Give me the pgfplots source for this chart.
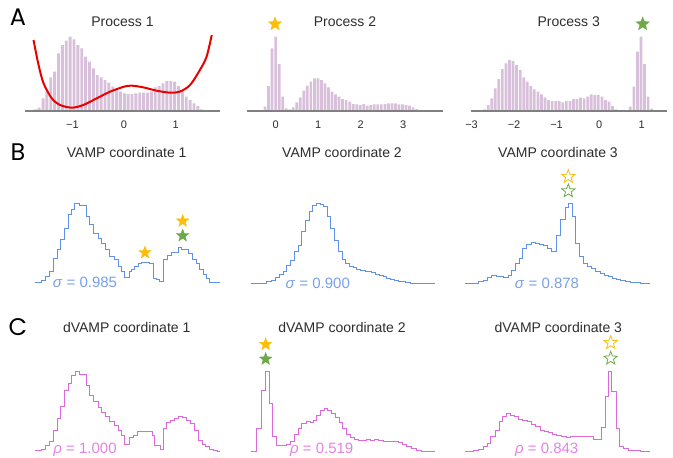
\documentclass[border=0pt]{standalone}
\usepackage{fontspec}
\setmainfont{Liberation Sans}
\newfontfamily\letterfont{Poppins}
\usepackage{pgfplots}
\pgfplotsset{compat=1.18}

\definecolor{barc}{RGB}{216,192,218}
\definecolor{axisgray}{RGB}{128,128,128}
\definecolor{titlec}{RGB}{45,45,45}
\definecolor{gold}{RGB}{252,190,8}
\definecolor{sgreen}{RGB}{108,170,72}
\definecolor{vblue}{RGB}{95,145,235}
\definecolor{vbluet}{RGB}{120,160,235}
\definecolor{dpink}{RGB}{220,105,220}
\definecolor{dpinkt}{RGB}{228,130,228}
\definecolor{pred}{RGB}{235,0,0}

\newcommand\titlefont{\fontsize{14}{16}\selectfont}
\newcommand\annfont{\fontsize{15}{17}\selectfont}

\pgfdeclareplotmark{fstar}{%
  \pgfpathmoveto{\pgfpointpolar{90}{\pgfplotmarksize}}%
  \pgfpathlineto{\pgfpointpolar{126}{0.42\pgfplotmarksize}}%
  \pgfpathlineto{\pgfpointpolar{162}{\pgfplotmarksize}}%
  \pgfpathlineto{\pgfpointpolar{198}{0.42\pgfplotmarksize}}%
  \pgfpathlineto{\pgfpointpolar{234}{\pgfplotmarksize}}%
  \pgfpathlineto{\pgfpointpolar{270}{0.42\pgfplotmarksize}}%
  \pgfpathlineto{\pgfpointpolar{306}{\pgfplotmarksize}}%
  \pgfpathlineto{\pgfpointpolar{342}{0.42\pgfplotmarksize}}%
  \pgfpathlineto{\pgfpointpolar{18}{\pgfplotmarksize}}%
  \pgfpathlineto{\pgfpointpolar{54}{0.42\pgfplotmarksize}}%
  \pgfpathclose
  \pgfusepathqfillstroke
}

\pgfplotsset{
  apanel/.style={scale only axis, anchor=south west, clip=false, axis on top,
    axis x line*=bottom, axis y line=none, ymin=0, ymax=240, height=80pt,
    x axis line style={draw=axisgray, line width=1.5pt},
    major tick length=0pt, ytick=\empty,
    xticklabel style={font=\fontsize{11}{13}\selectfont, text=titlec, anchor=base, yshift=-17pt}},
  hpanel/.style={scale only axis, anchor=south west, clip=false, hide axis,
    ymin=0, ymax=300, height=100pt, xmin=0},
  abar/.style={ybar, bar width=#1, fill=barc, draw=none},
  vline/.style={const plot, vblue, line width=1pt},
  dline/.style={const plot, dpink, line width=1pt},
  fstarg/.style={only marks, mark=fstar, mark size=6.5pt, mark options={fill=gold, draw=gold, line width=0.4pt}},
  fstargr/.style={only marks, mark=fstar, mark size=6.5pt, mark options={fill=sgreen, draw=sgreen, line width=0.4pt}},
  ostarg/.style={only marks, mark=fstar, mark size=7pt, mark options={fill=white, draw=gold, line width=0.8pt}},
  ostargr/.style={only marks, mark=fstar, mark size=7pt, mark options={fill=white, draw=sgreen, line width=0.8pt}},
}

\begin{document}
\begin{tikzpicture}
\useasboundingbox (0pt,0pt) rectangle (673pt,-458pt);

% ---------------- Row A ----------------
\begin{axis}[apanel, at={(25pt,-111pt)}, width=195pt, xmin=-1.92, xmax=1.86,
  xtick={-1,0,1}, xticklabels={−1,0,1}]
\addplot[abar=0.056] coordinates {
(-1.72,5) (-1.645,10) (-1.57,38) (-1.495,58) (-1.42,101) (-1.345,118) (-1.27,173)
(-1.195,198) (-1.12,211) (-1.045,223) (-0.97,215) (-0.895,198) (-0.82,188) (-0.745,163)
(-0.67,148) (-0.595,128) (-0.52,108) (-0.445,101) (-0.37,93) (-0.295,85) (-0.22,73)
(-0.145,63) (-0.07,58) (0.005,53) (0.08,51) (0.155,51) (0.23,53) (0.305,55) (0.38,55)
(0.455,55) (0.53,58) (0.605,71) (0.68,75) (0.755,83) (0.83,90) (0.905,90) (0.98,88)
(1.055,75) (1.13,58) (1.205,43) (1.28,33) (1.355,23) (1.43,15) (1.505,5)};
\addplot[pred, line width=2pt, smooth] coordinates {
(-1.755,213) (-1.66,140) (-1.56,83) (-1.40,38) (-1.24,18) (-1.01,10) (-0.79,18)
(-0.53,38) (-0.27,58) (0,73) (0.15,76) (0.37,71) (0.63,61) (0.89,55) (1.08,58)
(1.28,78) (1.47,123) (1.60,163) (1.70,228)};
\end{axis}

\begin{axis}[apanel, at={(247pt,-111pt)}, width=196pt, xmin=-0.675, xmax=3.94,
  xtick={0,1,2,3}, xticklabels={0,1,2,3}]
\addplot[abar=0.064] coordinates {
(-0.25,13) (-0.167,75) (-0.084,188) (-0.001,223) (0.082,141) (0.165,43) (0.248,8)
(0.331,5) (0.414,11) (0.497,26) (0.58,41) (0.663,61) (0.746,76) (0.829,88) (0.912,98)
(0.995,98) (1.078,93) (1.161,83) (1.244,71) (1.327,58) (1.41,50) (1.493,43) (1.576,36)
(1.659,33) (1.742,28) (1.825,21) (1.908,20) (1.991,18) (2.074,21) (2.157,16) (2.24,18)
(2.323,20) (2.406,20) (2.489,20) (2.572,21) (2.655,23) (2.738,23) (2.821,23) (2.904,20)
(2.987,20) (3.07,18) (3.153,16) (3.236,11) (3.319,6) (3.402,3)};
\addplot[fstarg, mark size=7pt] coordinates {(-0.016,261)};
\end{axis}

\begin{axis}[apanel, at={(470.7pt,-111pt)}, width=196pt, xmin=-3.02, xmax=1.59,
  xtick={-3,-2,-1,0,1}, xticklabels={−3,−2,−1,0,1}]
\addplot[abar=0.064] coordinates {
(-2.693,5) (-2.609,18) (-2.526,38) (-2.442,68) (-2.359,96) (-2.275,126) (-2.191,143)
(-2.108,153) (-2.024,150) (-1.941,138) (-1.857,123) (-1.773,101) (-1.690,88) (-1.606,75)
(-1.523,65) (-1.439,58) (-1.355,50) (-1.272,41) (-1.188,33) (-1.105,30) (-1.021,30)
(-0.937,30) (-0.854,26) (-0.770,30) (-0.687,30) (-0.603,36) (-0.519,36) (-0.436,40)
(-0.352,38) (-0.269,43) (-0.185,50) (-0.101,48) (-0.018,48) (0.066,43) (0.149,33)
(0.233,28) (0.317,15) (0.400,5) (0.484,3) (0.735,13) (0.818,73) (0.902,178)
(0.985,223) (1.069,141) (1.153,43) (1.236,7)};
\addplot[fstargr, mark size=7pt] coordinates {(1.025,261)};
\end{axis}

% ---------------- Row B ----------------
\begin{axis}[hpanel, at={(0pt,-283.3pt)}, width=230pt, xmax=690]
\addplot[vline] coordinates {
(105,3) (125,7) (138,20) (150,35) (160,75) (172,100) (183,130) (193,165) (205,205)
(215,220) (225,240) (238,233) (260,200) (270,175) (282,150) (295,135) (305,120)
(318,100) (330,80) (345,70) (355,50) (365,35) (375,18) (390,35) (395,42) (405,50)
(415,58) (425,63) (450,60) (460,15) (470,10) (480,5) (492,70) (502,82) (515,92)
(535,107) (545,102) (567,90) (578,72) (590,58) (600,40) (610,25) (620,13) (630,2) (660,2)};
\addplot[fstarg] coordinates {(435,92) (548,187)};
\addplot[fstargr] coordinates {(548,143)};
\end{axis}

\begin{axis}[hpanel, at={(230pt,-284pt)}, width=220pt, xmax=660]
\addplot[vline] coordinates {
(62,1) (95,2) (110,7) (125,12) (137,19) (148,29) (160,39) (170,55) (182,72) (193,97)
(205,117) (215,157) (225,192) (237,219) (248,237) (260,242) (270,240) (280,232)
(292,202) (302,167) (312,132) (325,97) (337,75) (347,62) (358,54) (370,49) (380,45)
(392,42) (405,39) (415,37) (425,34) (437,29) (448,25) (460,22) (470,17) (482,14)
(492,11) (505,9) (515,7) (527,5) (540,3) (560,1) (615,1)};
\end{axis}

\begin{axis}[hpanel, at={(450pt,-284pt)}, width=223pt, xmax=669]
\addplot[vline] coordinates {
(45,1) (70,3) (85,7) (100,12) (113,19) (125,25) (140,22) (160,19) (175,27) (185,42)
(195,62) (207,77) (218,107) (230,119) (243,125) (255,122) (268,119) (280,115)
(292,107) (305,99) (318,147) (330,194) (345,229) (355,242) (368,202) (375,122)
(387,82) (400,62) (412,54) (425,47) (437,39) (450,32) (462,27) (475,22) (487,17)
(500,14) (512,11) (525,9) (540,6) (555,4) (570,1) (600,1)};
\addplot[ostarg] coordinates {(355,322)};
\addplot[ostargr] coordinates {(355,279)};
\end{axis}

% ---------------- Row C ----------------
\begin{axis}[hpanel, at={(0pt,-451.7pt)}, width=230pt, xmax=690]
\addplot[dline] coordinates {
(105,3) (125,7) (138,20) (148,32) (160,65) (172,100) (183,135) (193,185) (205,205)
(215,228) (228,240) (238,232) (260,198) (270,170) (282,152) (295,132) (305,118)
(318,105) (330,90) (345,78) (355,65) (365,50) (375,23) (388,42) (400,50) (412,60)
(425,62) (458,50) (465,20) (482,7) (490,70) (500,88) (512,95) (525,100) (537,105)
(548,102) (560,95) (572,85) (585,65) (597,35) (607,22) (618,15) (630,8) (640,3)
(652,0) (660,0)};
\end{axis}

\begin{axis}[hpanel, at={(230pt,-451.7pt)}, width=220pt, xmax=660]
\addplot[dline] coordinates {
(62,2) (80,70) (93,185) (105,240) (118,145) (128,45) (138,20) (150,18) (170,22)
(182,30) (193,52) (205,70) (215,85) (228,92) (240,88) (250,95) (260,110) (270,125)
(282,130) (292,125) (305,115) (315,102) (327,88) (338,70) (350,52) (360,42) (372,38)
(385,35) (398,35) (410,37) (420,35) (432,37) (445,33) (460,32) (475,30) (490,30)
(505,27) (517,22) (530,15) (545,10) (560,5) (575,2) (615,2)};
\addplot[fstarg] coordinates {(107,322)};
\addplot[fstargr] coordinates {(107,278)};
\end{axis}

\begin{axis}[hpanel, at={(450pt,-451.7pt)}, width=223pt, xmax=669]
\addplot[dline] coordinates {
(45,1) (70,3) (85,7) (100,15) (112,25) (122,45) (135,65) (147,92) (158,105) (168,115)
(180,110) (192,105) (205,98) (218,95) (232,90) (245,83) (257,75) (270,65) (282,60)
(295,58) (307,52) (320,50) (335,45) (350,42) (360,45) (385,47) (405,45) (430,37)
(453,72) (465,167) (475,240) (485,182) (498,70) (508,17) (520,10) (535,5) (555,3)
(570,1) (600,1)};
\addplot[ostarg] coordinates {(482,327)};
\addplot[ostargr] coordinates {(482,280)};
\end{axis}

% ---------------- Texts ----------------
\node[font=\letterfont\fontsize{24}{26}\selectfont] at (18pt,-17pt) {A};
\node[font=\letterfont\fontsize{24}{26}\selectfont] at (18pt,-152pt) {B};
\node[font=\letterfont\fontsize{24}{26}\selectfont] at (18pt,-327pt) {C};

\node[font=\titlefont, text=titlec] at (122.5pt,-22pt) {Process 1};
\node[font=\titlefont, text=titlec] at (345pt,-22pt) {Process 2};
\node[font=\titlefont, text=titlec] at (568.7pt,-22pt) {Process 3};

\node[font=\titlefont, text=titlec] at (126.7pt,-152pt) {VAMP coordinate 1};
\node[font=\titlefont, text=titlec] at (342pt,-152pt) {VAMP coordinate 2};
\node[font=\titlefont, text=titlec] at (558pt,-152pt) {VAMP coordinate 3};

\node[font=\titlefont, text=titlec] at (126.7pt,-327pt) {dVAMP coordinate 1};
\node[font=\titlefont, text=titlec] at (342pt,-327pt) {dVAMP coordinate 2};
\node[font=\titlefont, text=titlec] at (558.3pt,-327pt) {dVAMP coordinate 3};

\node[font=\annfont, text=vbluet] at (85pt,-282.8pt) {\textit{σ} = 0.985};
\node[font=\annfont, text=vbluet] at (317.8pt,-283.3pt) {\textit{σ} = 0.900};
\node[font=\annfont, text=vbluet] at (547pt,-283pt) {\textit{σ} = 0.878};

\node[font=\annfont, text=dpinkt] at (85pt,-450.3pt) {\textit{ρ} = 1.000};
\node[font=\annfont, text=dpinkt] at (321.7pt,-450pt) {\textit{ρ} = 0.519};
\node[font=\annfont, text=dpinkt] at (546.7pt,-450pt) {\textit{ρ} = 0.843};
\end{tikzpicture}
\end{document}
